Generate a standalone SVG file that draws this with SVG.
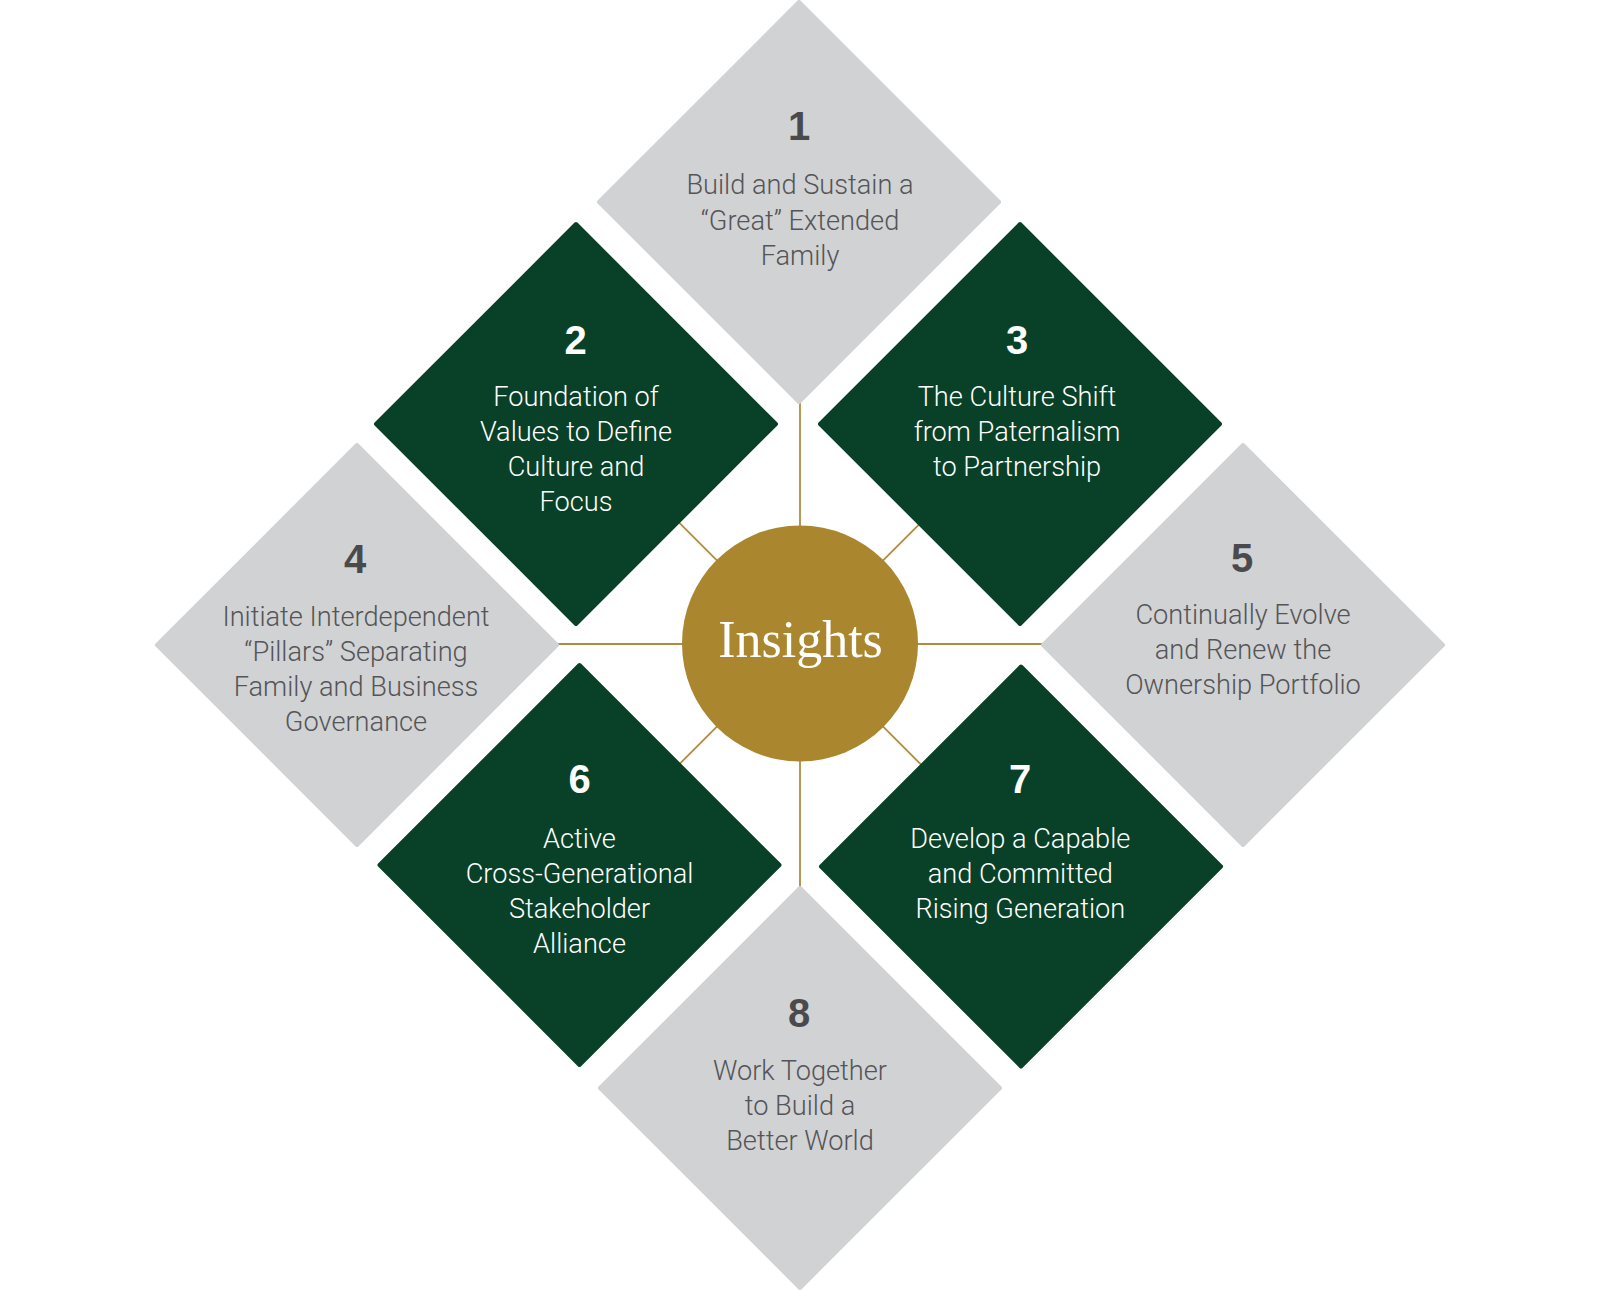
<svg xmlns="http://www.w3.org/2000/svg" width="1600" height="1290" viewBox="0 0 1600 1290">
<style>
.gray{fill:#d1d2d4;stroke:#d1d2d4;stroke-width:4;stroke-linejoin:round}
.green{fill:#084128;stroke:#084128;stroke-width:4;stroke-linejoin:round}
.conn{stroke:#b08d3e;stroke-width:1.8;fill:none}
.num{font-family:"Liberation Sans",Arial,sans-serif;font-weight:bold;font-size:40px;text-anchor:middle}
.lbl{font-family:Roboto,"Liberation Sans",Arial,sans-serif;font-weight:300;font-size:27.2px;text-anchor:middle}
.g{fill:#545557}
.gn{fill:#4a4a4c}
.w{fill:#ffffff}
</style>
<rect width="1600" height="1290" fill="#ffffff"/>
<g id="connectors">
<line class="conn" x1="800" y1="300" x2="800" y2="990"/>
<line class="conn" x1="450" y1="644" x2="1150" y2="644"/>
<line class="conn" x1="600" y1="443.5" x2="1000" y2="843.5"/>
<line class="conn" x1="1000" y1="443.5" x2="600" y2="843.5"/>
</g>
<g id="node1">
<polygon class="gray" points="799,2 999,202 799,402 599,202"/>
<text class="num gn" x="799" y="140">1</text>
<text class="lbl g" x="800" y="194">Build and Sustain a</text>
<text class="lbl g" x="800" y="230">“Great” Extended</text>
<text class="lbl g" x="800" y="265">Family</text>
</g>
<g id="node2">
<polygon class="green" points="576,224 776,424 576,624 376,424"/>
<text class="num w" x="575.5" y="354">2</text>
<text class="lbl w" x="576" y="406">Foundation of</text>
<text class="lbl w" x="576" y="441">Values to Define</text>
<text class="lbl w" x="576" y="476">Culture and</text>
<text class="lbl w" x="576" y="511">Focus</text>
</g>
<g id="node3">
<polygon class="green" points="1020,224 1220,424 1020,624 820,424"/>
<text class="num w" x="1017" y="354">3</text>
<text class="lbl w" x="1017" y="406">The Culture Shift</text>
<text class="lbl w" x="1017" y="441">from Paternalism</text>
<text class="lbl w" x="1017" y="476">to Partnership</text>
</g>
<g id="node4">
<polygon class="gray" points="357,445 557,645 357,845 157,645"/>
<text class="num gn" x="355" y="572.7">4</text>
<text class="lbl g" x="356" y="625.7">Initiate Interdependent</text>
<text class="lbl g" x="356" y="660.7">“Pillars” Separating</text>
<text class="lbl g" x="356" y="695.7">Family and Business</text>
<text class="lbl g" x="356" y="730.7">Governance</text>
</g>
<g id="node5">
<polygon class="gray" points="1243,445 1443,645 1243,845 1043,645"/>
<text class="num gn" x="1242" y="571.7">5</text>
<text class="lbl g" x="1243" y="624.3">Continually Evolve</text>
<text class="lbl g" x="1243" y="659.3">and Renew the</text>
<text class="lbl g" x="1243" y="694.3">Ownership Portfolio</text>
</g>
<g id="node6">
<polygon class="green" points="579.5,665 779.5,865 579.5,1065 379.5,865"/>
<text class="num w" x="579.5" y="793.3">6</text>
<text class="lbl w" x="579.5" y="847.7">Active</text>
<text class="lbl w" x="579.5" y="882.7">Cross-Generational</text>
<text class="lbl w" x="579.5" y="917.7">Stakeholder</text>
<text class="lbl w" x="579.5" y="952.7">Alliance</text>
</g>
<g id="node7">
<polygon class="green" points="1021,666.5 1221,866.5 1021,1066.5 821,866.5"/>
<text class="num w" x="1020" y="793.3">7</text>
<text class="lbl w" x="1020.3" y="847.7">Develop a Capable</text>
<text class="lbl w" x="1020.3" y="882.7">and Committed</text>
<text class="lbl w" x="1020.3" y="917.7">Rising Generation</text>
</g>
<g id="node8">
<polygon class="gray" points="800,888 1000,1088 800,1288 600,1088"/>
<text class="num gn" x="799" y="1026.7">8</text>
<text class="lbl g" x="800" y="1080">Work Together</text>
<text class="lbl g" x="800" y="1115">to Build a</text>
<text class="lbl g" x="800" y="1150">Better World</text>
</g>
<g id="center">
<circle cx="800" cy="643.5" r="118" fill="#aa872e"/>
<text x="800.5" y="656.7" text-anchor="middle" font-family="'Liberation Serif','Times New Roman',serif" font-size="52" fill="#ffffff">Insights</text>
</g>
</svg>
